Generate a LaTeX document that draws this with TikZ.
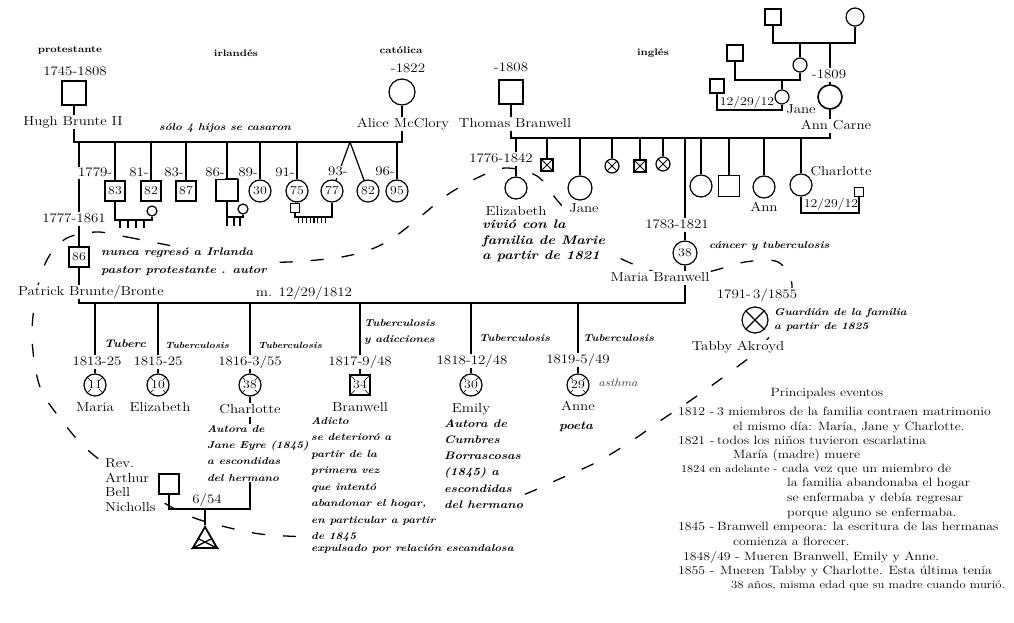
\documentclass[tikz,border=0pt]{standalone}
\usepackage{fontspec}
\setmainfont{Latin Modern Roman}[FakeStretch=1.15]
\usepackage{tikz}
\usetikzlibrary{shapes.geometric, calc}
\pgfdeclarelayer{curve}
\pgfdeclarelayer{links}
\pgfsetlayers{curve,links,main}
\newcommand\nmfont{\fontsize{13}{15}\selectfont}
\newcommand\numfont{\fontsize{12}{13}\selectfont}
\newcommand\notefont{\fontsize{10}{16.5}\selectfont\bfseries\itshape}
\newcommand\evfont{\fontsize{12}{14}\selectfont}
\newcommand\tagfont{\fontsize{9.5}{11}\selectfont\bfseries}
\newcommand\wb[1]{{\setlength{\fboxsep}{0.4pt}\colorbox{white}{#1}}}

\begin{document}
\begin{tikzpicture}[
  x=1pt, y=-1pt,
  man/.style={draw, line width=1.2pt, fill=white, minimum size=#1, inner sep=0pt, font=\numfont},
  man/.default=22pt,
  woman/.style={draw, circle, line width=1.2pt, fill=white, minimum size=#1, inner sep=0pt, font=\numfont},
  woman/.default=22pt,
  gone/.style={path picture={\draw[line width=#1] (path picture bounding box.north west) -- (path picture bounding box.south east) (path picture bounding box.north east) -- (path picture bounding box.south west);}},
  gone/.default=0.8pt,
  lbl/.style={font=\nmfont, fill=white, inner sep=1pt, text height=9pt, text depth=2.5pt},
  tag/.style={font=\tagfont, inner sep=1pt},
  note/.style={font=\notefont, align=left, fill=white, inner sep=1pt, anchor=north west},
  cause/.style={font=\notefont, fill=white, inner sep=1pt, anchor=west, text height=7pt, text depth=2pt},
  evt/.style={font=\evfont, anchor=west, inner sep=0pt, text height=8.5pt, text depth=2.5pt},
  link/.style={line width=1.2pt},
  hh/.style={line width=1.3pt, dash pattern=on 13pt off 18pt}
]
\useasboundingbox (0,0) rectangle (1014,623);
\begin{pgfonlayer}{curve}
\fill[white] (0,0) rectangle (1014,623);
% household boundary
\draw[hh] plot[smooth cycle, tension=0.55] coordinates {(97,232) (127,237) (157,243) (205,252) (267,262) (327,259) (363,252) (390,240) (420,217) (447,195) (477,178) (505,168) (537,176) (557,200) (580,227) (600,246) (628,262) (665,274) (707,272) (745,262) (778,262) (792,285) (782,318) (760,348) (737,367) (697,396) (660,421) (633,440) (597,462) (557,480) (523,495) (455,520) (400,531) (340,537) (270,535) (230,528) (187,515) (140,488) (90,452) (63,422) (40,387) (32,337) (37,290) (48,258) (67,238)};
\end{pgfonlayer}

% Brunte side
\node[man=24pt] (hugh) at (74,93) {};
\node[woman=26pt] (alice) at (402,92) {};
\node[man=20pt, line width=1.8pt] (k1) at (115,191) {83};
\node[man=20pt, line width=1.8pt] (k2) at (151,191) {82};
\node[man=20pt, line width=1.8pt] (k3) at (186,191) {87};
\node[man=22pt, line width=1.8pt] (k4) at (227,190) {};
\node[woman] (k5) at (260,191) {30};
\node[woman] (k6) at (297,191) {75};
\node[woman] (k7) at (332,191) {77};
\node[woman] (k8) at (368,191) {82};
\node[woman] (k9) at (397,191) {95};
\node[woman=10pt] (k1w) at (152,211) {};
\node[woman=10pt] (k4w) at (243,209) {};
\node[man=9pt] (k6h) at (295,208) {};
\node[man=20pt, line width=1.8pt] (patrick) at (79,257) {86};

% Branwell side
\node[man=24pt] (thomas) at (511,92) {};
\node[woman=24pt, line width=1.6pt] (ann) at (830,97) {};
\node[man=16pt] (ggf) at (773,17) {};
\node[woman=18pt] (ggm) at (855,17) {};
\node[woman=14pt] (gma) at (800,65) {};
\node[man=16pt] (gpa) at (735,53) {};
\node[woman=14pt] (jane) at (782,97) {};
\node[man=14pt] (janeh) at (717,86) {};
\node[woman] (eliz) at (516,188) {};
\node[man=12pt, gone] (bx1) at (547,165) {};
\node[woman=24pt] (jane2) at (580,188) {};
\node[woman=14pt, gone] (cx1) at (612,166) {};
\node[man=12pt, gone] (bx2) at (640,166) {};
\node[woman=14pt, gone] (cx2) at (663,164) {};
\node[woman=24pt] (maria) at (685,253) {38};
\node[woman] (s1) at (701,186) {};
\node[man=21pt] (s2) at (729,186) {};
\node[woman] (ann2) at (764,187) {};
\node[woman] (charl2) at (801,185) {};
\node[man=9pt] (charlh) at (859,192) {};

% Bronte children
\node[woman, gone=0.5pt] (pk1) at (95,385) {\wb{11}};
\node[woman, gone=0.5pt] (pk2) at (158,385) {\wb{10}};
\node[woman, gone=0.5pt] (pk3) at (250,385) {\wb{38}};
\node[man=20pt, line width=1.6pt, gone=0.6pt] (pk4) at (360,385) {\wb{34}};
\node[woman, gone=0.5pt] (pk5) at (471,385) {\wb{30}};
\node[woman, gone=0.5pt] (pk6) at (578,385) {\wb{29}};
\node[man=20pt] (arthur) at (169,484) {};
\node[regular polygon, regular polygon sides=3, draw, line width=1.8pt, fill=white, minimum size=28pt, inner sep=0pt] (preg) at (205,541) {};
\draw[line width=1.3pt] (preg.corner 2) -- ($(preg.corner 1)!0.55!(preg.corner 3)$)
  (preg.corner 3) -- ($(preg.corner 1)!0.55!(preg.corner 2)$);
\node[woman=26pt, gone=1.1pt] (tabby) at (755,320) {};

\coordinate (hbar) at (74,142);
\coordinate (twin) at (350,142);
\coordinate (k1m) at (115,220);
\coordinate (k4m) at (227,217);
\coordinate (k6m) at (295,217);
\coordinate (tbar) at (511,138);
\coordinate (ggbar) at (773,43);
\coordinate (gmam) at (735,80);
\coordinate (janem) at (717,110);
\coordinate (chm) at (801,213);
\coordinate (pbar) at (79,303);
\coordinate (cam) at (250,509);

\begin{pgfonlayer}{links}
\draw[link] (hugh) -- (hbar) -| (alice);
\foreach \k in {k1,k2,k3,k4,k5,k6,k9,patrick}
  \draw[link] (\k) -- (\k |- hbar);
\draw[link] (twin) -- (k7);
\draw[link] (twin) -- (k8);
\draw[link] (k1) -- (k1m) -| (k1w);
\foreach \x in {5,13,21,29}
  \draw[link] ([xshift=\x pt]k1m) -- ++(0,8);
\draw[link] (k4) -- (k4m) -| (k4w);
\foreach \x in {0,7,13}
  \draw[link] ([xshift=\x pt]k4m) -- ++(0,9);
\draw[link] (k6) -- (k6h);
\draw[link] (k6h) -- (k6m) -| (k7);
\foreach \i in {1,...,8}
  \draw[link] ([xshift={\i*3.8pt}]k6m) -- ++(0,6);
\draw[link] (thomas) -- (tbar) -| (ann);
\foreach \k in {eliz,bx1,jane2,cx1,bx2,cx2,maria,s1,s2,ann2,charl2}
  \draw[link] (\k) -- (\k |- tbar);
\draw[link] (charl2) -- (chm) -| (charlh);
\draw[link] (ggf) -- (ggbar) -| (ggm);
\draw[link] (gma) -- (gma |- ggbar);
\draw[link] (ann) -- (ann |- ggbar);
\draw[link] (gpa) -- (gmam) -| (gma);
\draw[link] (jane) -- (jane |- gmam);
\draw[link] (janeh) -- (janem) -| (jane);
\draw[link] (patrick) -- (pbar) -| (maria);
\foreach \k in {pk1,pk2,pk3,pk4,pk5,pk6}
  \draw[link] (\k) -- (\k |- pbar);
\draw[link] (pk3) -- (cam) -| (arthur);
\draw[link] (preg.corner 1) -- (preg |- cam);
\end{pgfonlayer}

% labels, top
\node[tag] (t1) at (70,50) {protestante};
\node[tag] (t2) at (236,53) {irlandés};
\node[tag] (t3) at (401,50) {católica};
\node[tag] (t4) at (653,53) {inglés};
\node[lbl] (d-hugh) at (75,72) {1745-1808};
\node[lbl] (d-alice) at (408,69) {-1822};
\node[lbl] (d-thomas) at (511,68) {-1808};
\node[lbl] (n-hugh) at (73,122) {Hugh Brunte II};
\node[lbl] (n-alice) at (403,124) {Alice McClory};
\node[lbl] (n-thomas) at (515,124) {Thomas Branwell};
\node[font=\notefont] (married) at (225,128) {sólo 4 hijos se casaron};
\node[lbl, anchor=east, inner sep=0.5pt] (d-k1) at (113,173) {1779-};
\node[lbl, anchor=east, inner sep=0.5pt] (d-k2) at (149.5,173) {81-};
\node[lbl, anchor=east, inner sep=0.5pt] (d-k3) at (184.5,173) {83-};
\node[lbl, anchor=east, inner sep=0.5pt] (d-k4) at (225.5,173) {86-};
\node[lbl, anchor=east, inner sep=0.5pt] (d-k5) at (258.5,173) {89-};
\node[lbl, anchor=east, inner sep=0.5pt] (d-k6) at (295.5,173) {91-};
\node[lbl, inner sep=0.5pt] (d-k7) at (338,172) {93-};
\node[lbl, anchor=east, inner sep=0.5pt] (d-k9) at (395.5,172) {96-};
\node[lbl] (d-patrick) at (74,219) {1777-1861};
\node[note, font=\fontsize{11}{18}\selectfont\bfseries\itshape] (w-patrick) at (100,247) {nunca regresó a Irlanda\\pastor protestante . autor};
\node[lbl] (n-patrick) at (91,292) {Patrick Brunte/Bronte};
\node[lbl] (wed) at (304,293) {m. 12/29/1812};

% labels, Branwell side
\node[lbl] (d-gma) at (829,75) {-1809};
\node[lbl] (n-jane) at (801,110) {Jane};
\node[lbl] (n-ann) at (836,126) {Ann Carne};
\node[lbl, font=\numfont, fill=none] (w-jane) at (747,102) {12/29/12};
\node[lbl] (d-eliz) at (501,159) {1776-1842};
\node[lbl] (n-eliz) at (516,212) {Elizabeth};
\node[note, font=\fontsize{12.5}{15.5}\selectfont\bfseries\itshape] (w-eliz) at (481,219) {vivió con la\\familia de Marie\\a partir de 1821};
\node[lbl] (n-jane2) at (584,209) {Jane};
\node[lbl] (d-maria) at (677,225) {1783-1821};
\node[cause] (c-maria) at (708,246) {cáncer y tuberculosis};
\node[lbl] (n-maria) at (660,278) {Maria Branwell};
\node[lbl] (n-ann2) at (764,208) {Ann};
\node[lbl] (n-charl2) at (841,172) {Charlotte};
\node[lbl, font=\numfont, fill=none] (w-charl2) at (831,204) {12/29/12};

% labels, Bronte children
\node[cause, font=\fontsize{11}{12}\selectfont\bfseries\itshape] (c-pk1) at (103,345) {Tuberc};
\node[cause, font=\fontsize{9}{10}\selectfont\bfseries\itshape] (c-pk2) at (164,346) {Tuberculosis};
\node[cause, font=\fontsize{9}{10}\selectfont\bfseries\itshape] (c-pk3) at (257,346) {Tuberculosis};
\node[note] (c-pk4) at (363,318) {Tuberculosis\\[-0.5pt]y adicciones};
\node[cause] (c-pk5) at (478,339) {Tuberculosis};
\node[cause] (c-pk6) at (582,339) {Tuberculosis};
\node[lbl] (d-pk1) at (97,362) {1813-25};
\node[lbl] (d-pk2) at (158,362) {1815-25};
\node[lbl] (d-pk3) at (250,362) {1816-3/55};
\node[lbl] (d-pk4) at (360,362) {1817-9/48};
\node[lbl] (d-pk5) at (472,361) {1818-12/48};
\node[lbl] (d-pk6) at (578,360) {1819-5/49};
\node[lbl] (n-pk1) at (95,408) {Maria};
\node[lbl] (n-pk2) at (160,408) {Elizabeth};
\node[lbl] (n-pk3) at (250,410) {Charlotte};
\node[lbl] (n-pk4) at (360,408) {Branwell};
\node[lbl] (n-pk5) at (471,409) {Emily};
\node[lbl] (n-pk6) at (578,407) {Anne};
\node[font=\fontsize{11}{12}\selectfont\itshape, text=black!75] (x-pk6) at (618,383) {asthma};
\node[cause, anchor=center, font=\fontsize{11.5}{12}\selectfont\bfseries\itshape] (w-pk6) at (576,427) {poeta};
\node[note] (w-pk4) at (310,416) {Adicto\\se deterioró a\\partir de la\\primera vez\\que intentó\\abandonar el hogar,\\en particular a partir\\de 1845\\[-4.5pt]expulsado por relación escandalosa};
\node[note, font=\fontsize{10}{16.3}\selectfont\bfseries\itshape] (w-pk3) at (206,424) {Autora de\\Jane Eyre (1845)\\a escondidas\\del hermano};
\node[note, font=\fontsize{11}{16.3}\selectfont\bfseries\itshape] (w-pk5) at (443,418) {Autora de\\Cumbres\\Borrascosas\\(1845) a\\escondidas\\del hermano};
\node[font=\fontsize{13}{14.7}\selectfont, align=left, anchor=west, fill=white, inner sep=1pt] (n-arthur) at (104,485) {Rev.\\Arthur\\Bell\\Nicholls};
\node[lbl, fill=none] (wed2) at (207,500) {6/54};

% Tabby
\node[lbl] (d-tabby) at (757,295) {1791-\,3/1855};
\node[note, font=\fontsize{10}{14}\selectfont\bfseries\itshape] (w-tabby) at (773,307) {Guardián de la familia\\a partir de 1825};
\node[lbl] (n-tabby) at (738,347) {Tabby Akroyd};

% events
\node[font=\evfont] (ev0) at (827,393) {Principales eventos};
\node[evt] (ev1y) at (678,412) {1812 -};
\node[evt] (ev1a) at (717,412) {3 miembros de la familia contraen matrimonio};
\node[evt] (ev1b) at (733,427) {el mismo día: María, Jane y Charlotte.};
\node[evt] (ev2y) at (678,441) {1821 -};
\node[evt] (ev2a) at (717,441) {todos los niños tuvieron escarlatina};
\node[evt] (ev2b) at (733,455) {María (madre) muere};
\node[evt, font=\fontsize{10.5}{12}\selectfont] (ev3y) at (681,469) {1824 en adelante -};
\node[evt] (ev3a) at (782,469) {cada vez que un miembro de};
\node[evt] (ev3b) at (787,483) {la familia abandonaba el hogar};
\node[evt] (ev3c) at (787,498) {se enfermaba y debía regresar};
\node[evt] (ev3d) at (787,513) {porque alguno se enfermaba.};
\node[evt] (ev4y) at (678,527) {1845 -};
\node[evt] (ev4a) at (717,527) {Branwell empeora: la escritura de las hermanas};
\node[evt] (ev4b) at (733,542) {comienza a florecer.};
\node[evt] (ev5) at (683,557) {1848/49 - Mueren Branwell, Emily y Anne.};
\node[evt] (ev6y) at (678,571) {1855 -};
\node[evt] (ev6a) at (720,571) {Mueren Tabby y Charlotte. Esta última tenía};
\node[evt, font=\fontsize{11.1}{13}\selectfont] (ev6b) at (731,585) {38 años, misma edad que su madre cuando murió.};
\end{tikzpicture}
\end{document}
